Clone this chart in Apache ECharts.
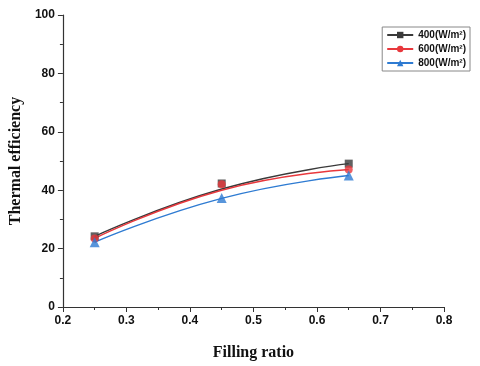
<!DOCTYPE html>
<html>
<head>
<meta charset="utf-8">
<script src="https://cdn.jsdelivr.net/npm/echarts@6/dist/echarts.min.js"></script>
<style>
    html, body { margin: 0; padding: 0; background: #fff; }
    #chart { width: 480px; height: 366px; }
</style>
</head>
<body>
<div id="chart"></div>
<script>
    // filling ratios where the measurements were taken
    var ratios = [0.25, 0.45, 0.65];
    var seriesNames = ['400(W/m²)', '600(W/m²)', '800(W/m²)'];
    // measured points
    var pts400 = [24.2, 42.3, 49.1];
    var pts600 = [23.5, 42.0, 47.1];
    var pts800 = [22.2, 37.3, 45.0];
    // fitted curves
    var fit400 = [24.2, 40.4, 49.1];
    var fit600 = [23.5, 40.0, 47.1];
    var fit800 = [22.2, 37.2, 45.0];
    var xTicks = [0.2, 0.3, 0.4, 0.5, 0.6, 0.7, 0.8];
    var yTicks = [0, 20, 40, 60, 80, 100];

    var colors = ['#3a3a3a', '#e8383d', '#2e7bd2'];
    var symbols = ['rect', 'circle', 'triangle'];
    var pts = [pts400, pts600, pts800];
    var fits = [fit400, fit600, fit800];

    function pairs(vals) {
        return ratios.map(function (r, i) { return [r, vals[i]]; });
    }

    var series = [];
    for (var i = 0; i < 3; i++) {
        series.push({
            name: seriesNames[i],
            type: 'line',
            smooth: true,
            showSymbol: false,
            symbol: symbols[i],
            symbolSize: 8,
            data: pairs(fits[i]),
            lineStyle: { color: colors[i], width: 1.5 },
            itemStyle: { color: colors[i] },
            z: 2
        });
    }
    for (var j = 0; j < 3; j++) {
        series.push({
            name: seriesNames[j] + ' pts',
            type: 'scatter',
            symbol: symbols[j],
            symbolSize: j === 2 ? 10 : 8,
            data: pairs(pts[j]),
            itemStyle: { color: colors[j] },
            z: 3
        });
    }

    var axisText = { color: '#111', fontWeight: 'bold', fontSize: 12, fontFamily: 'Arial, "Liberation Sans", sans-serif' };
    var nameText = { color: '#111', fontWeight: 'bold', fontSize: 16, fontFamily: '"Liberation Serif", "Times New Roman", serif' };

    var myChart = echarts.init(document.getElementById('chart'));
    myChart.setOption({
        animation: false,
        grid: { left: 62, right: 36, top: 15, bottom: 58 },
        legend: {
            data: seriesNames,
            orient: 'vertical',
            right: 10,
            top: 27,
            itemGap: 4,
            itemWidth: 26,
            itemHeight: 8,
            padding: [3, 4, 3, 4],
            borderColor: '#888',
            borderWidth: 1,
            textStyle: { color: '#111', fontWeight: 'bold', fontSize: 10, fontFamily: 'Arial, "Liberation Sans", sans-serif' }
        },
        xAxis: {
            type: 'value',
            min: xTicks[0],
            max: xTicks[xTicks.length - 1],
            interval: 0.1,
            name: 'Filling ratio',
            nameLocation: 'middle',
            nameGap: 38,
            nameTextStyle: nameText,
            axisLine: { lineStyle: { color: '#333', width: 1.2 } },
            axisTick: { lineStyle: { color: '#333' }, length: 5 },
            minorTick: { show: true, splitNumber: 2, length: 3, lineStyle: { color: '#333' } },
            splitLine: { show: false },
            axisLabel: Object.assign({ margin: 8, formatter: function (v) { return v.toFixed(1); } }, axisText)
        },
        yAxis: {
            type: 'value',
            min: yTicks[0],
            max: yTicks[yTicks.length - 1],
            interval: 20,
            name: 'Thermal efficiency',
            nameLocation: 'middle',
            nameGap: 38,
            nameTextStyle: nameText,
            axisLine: { show: true, lineStyle: { color: '#333', width: 1.2 } },
            axisTick: { show: true, lineStyle: { color: '#333' }, length: 5 },
            minorTick: { show: true, splitNumber: 2, length: 3, lineStyle: { color: '#333' } },
            splitLine: { show: false },
            axisLabel: Object.assign({ margin: 8 }, axisText)
        },
        series: series
    });
</script>
</body>
</html>
